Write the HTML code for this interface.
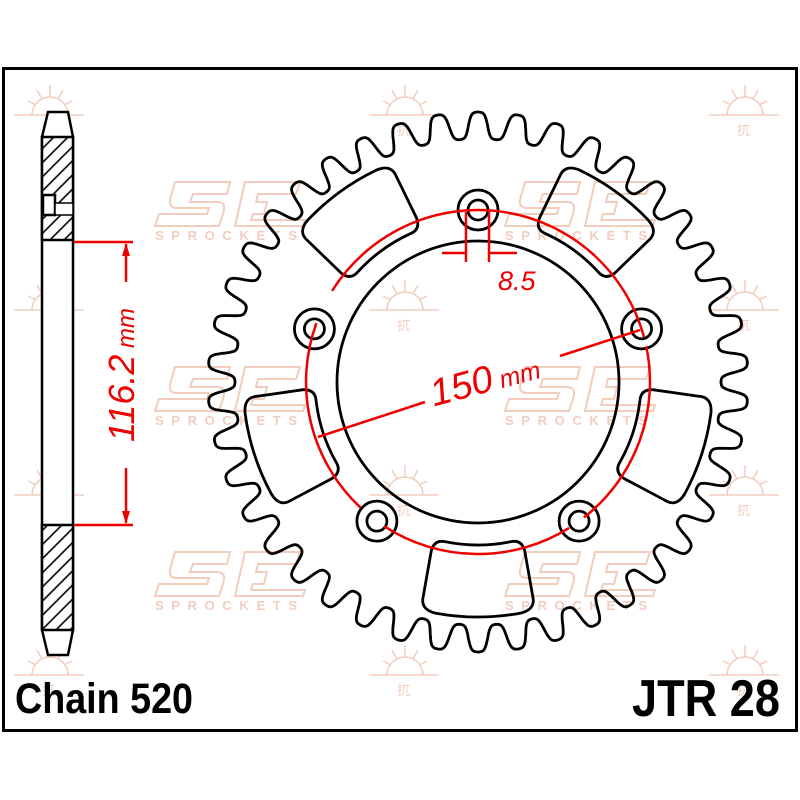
<!DOCTYPE html>
<html><head><meta charset="utf-8"><style>
html,body{margin:0;padding:0;background:#fff;}
svg{display:block}
</style></head><body>
<svg id="s" width="800" height="800" viewBox="0 0 800 800" xmlns="http://www.w3.org/2000/svg">
<defs>
<pattern id="h" patternUnits="userSpaceOnUse" width="10" height="10" patternTransform="rotate(-45)">
<rect width="10" height="10" fill="#fff"/><line x1="0" y1="5" x2="10" y2="5" stroke="#000" stroke-width="1.6"/>
</pattern>
<g id="logo" fill="none" stroke="#f2cdbd" stroke-width="2">
<path d="M20 2 H75 L72 14 H38 L35 22 H62 Q72 22 68 34 L64 46 H0 L4 34 H52 L54 28 H22 Q12 28 16 16 Z"/>
<path d="M80 46 L90 2 H145 L141 14 H103 L101 22 H112 L109 34 H98 L96 40 H150 L148 46 Z"/>
<text x="0" y="60" font-family="Liberation Sans,sans-serif" font-weight="bold" font-size="13" fill="#f2cdbd" stroke="none" textLength="145" letter-spacing="3">SPROCKETS</text>
</g>
<g id="sun" fill="none" stroke="#f2cdbd" stroke-width="1.5">
<path d="M-18 10 A18 18 0 0 1 18 10"/>
<line x1="-36" y1="10" x2="34" y2="10"/>
<line x1="0" y1="-20" x2="0" y2="-8"/><line x1="-22" y1="-4" x2="-14" y2="0"/><line x1="22" y1="-4" x2="14" y2="0"/>
<line x1="-13" y1="-15" x2="-8" y2="-6"/><line x1="13" y1="-15" x2="8" y2="-6"/>
<text x="-8" y="30" font-size="13" fill="#f2cdbd" stroke="none" font-family="Noto Sans CJK SC,sans-serif">扤</text>
</g>
</defs>
<g id="wm">
<use href="#logo" x="155" y="180"/><use href="#logo" x="505" y="180"/>
<use href="#logo" x="155" y="365"/><use href="#logo" x="505" y="365"/>
<use href="#logo" x="155" y="550"/><use href="#logo" x="505" y="550"/>
<use href="#sun" x="50" y="105"/><use href="#sun" x="405" y="105"/><use href="#sun" x="745" y="105"/>
<use href="#sun" x="50" y="300"/><use href="#sun" x="405" y="300"/><use href="#sun" x="745" y="300"/>
<use href="#sun" x="50" y="485"/><use href="#sun" x="405" y="485"/><use href="#sun" x="745" y="485"/>
<use href="#sun" x="50" y="665"/><use href="#sun" x="405" y="665"/><use href="#sun" x="745" y="665"/>
</g>
<rect x="3.5" y="68.5" width="793" height="662" fill="none" stroke="#000" stroke-width="3"/>
<g stroke="#000" stroke-width="2.5" fill="none">
<path d="M48 112 H68 L73 137 V630 L68 655 H48 L42 630 V137 Z" fill="#fff"/>
<rect x="42" y="137" width="31" height="103" fill="url(#h)"/>
<rect x="42" y="525" width="31" height="105" fill="url(#h)"/>
<rect x="43" y="195" width="12" height="20" fill="#fff"/>
<rect x="55" y="203" width="18" height="12" fill="#fff" stroke-width="1.5"/>
</g>
<g stroke="#e00" stroke-width="2.5" fill="#e00">
<line x1="74" y1="242" x2="133" y2="242"/><line x1="74" y1="525" x2="133" y2="525"/>
<line x1="126" y1="244" x2="126" y2="282"/><line x1="126" y1="468" x2="126" y2="523"/>
<path d="M126 243 L122 256 L130 256 Z" stroke="none"/>
<path d="M126 524 L122 511 L130 511 Z" stroke="none"/>
</g>
<text transform="translate(134,375) rotate(-90)" text-anchor="middle" font-family="Liberation Sans,sans-serif" font-style="italic" fill="#e00"><tspan font-size="36">116.2</tspan><tspan font-size="24"> mm</tspan></text>
<g id="spr" fill="none" stroke="#000" stroke-width="2.8"></g>
<g fill="none" stroke="#e00" stroke-width="2.5">
<path id="redc"/>
<line x1="318" y1="437" x2="425" y2="402"/>
<line x1="560" y1="356" x2="640" y2="330"/>
<line x1="466" y1="212" x2="466" y2="262"/><line x1="489" y1="212" x2="489" y2="262"/>
<line x1="442" y1="253" x2="466" y2="253"/><line x1="489" y1="253" x2="517" y2="253"/>
</g>
<text transform="translate(488,392) rotate(-15)" text-anchor="middle" font-family="Liberation Sans,sans-serif" font-style="italic" fill="#e00"><tspan font-size="38">150</tspan><tspan font-size="25"> mm</tspan></text>
<text x="498" y="290" font-family="Liberation Sans,sans-serif" font-style="italic" font-size="27" fill="#e00">8.5</text>
<text x="15" y="713" font-family="Liberation Sans,sans-serif" font-weight="bold" font-size="43" textLength="178" lengthAdjust="spacingAndGlyphs">Chain 520</text>
<text x="632" y="716" font-family="Liberation Sans,sans-serif" font-weight="bold" font-size="52" textLength="148" lengthAdjust="spacingAndGlyphs">JTR 28</text>
</svg>
<script>
(function(){
var cx=478,cy=382,N=42,Ro=270,Rr=243,d="";
var M=3000,k=1.8,tk=Math.tanh(k);
for(var i=0;i<=M;i++){
 var t=i/M*2*Math.PI;
 var ph=((t*N/(2*Math.PI))%1+1)%1;
 var u=Math.cos(ph*2*Math.PI);
 var f=Math.tanh(k*u)/tk;
 var r=(Ro+Rr)/2+(Ro-Rr)/2*f;
 var a=t-Math.PI/2;
 d+=(i?"L":"M")+(cx+r*Math.cos(a)).toFixed(1)+" "+(cy+r*Math.sin(a)).toFixed(1);
}
d+="Z";
var g=document.getElementById("spr"),ns="http://www.w3.org/2000/svg";
function P(dd){var p=document.createElementNS(ns,"path");p.setAttribute("d",dd);g.appendChild(p);return p;}
function C(x,y,r){var c=document.createElementNS(ns,"circle");c.setAttribute("cx",x);c.setAttribute("cy",y);c.setAttribute("r",r);g.appendChild(c);}
P(d);
C(cx,cy,141);
function pt(r,a){return (cx+r*Math.cos(a)).toFixed(1)+" "+(cy+r*Math.sin(a)).toFixed(1);}
for(var k2=0;k2<5;k2++){
 var a0=(-90+k2*72)*Math.PI/180, aw=(-54+k2*72)*Math.PI/180;
 C(cx+172*Math.cos(a0),cy+172*Math.sin(a0),20);
 C(cx+172*Math.cos(a0),cy+172*Math.sin(a0),10);
 var r1=163,r2=235,h1=0.27,h2=0.25,c=0.07;
 var w="M"+pt(r1+12,aw-h1)+" Q"+pt(r1,aw-h1)+" "+pt(r1,aw-h1+c)
 +" A"+r1+" "+r1+" 0 0 1 "+pt(r1,aw+h1-c)
 +" Q"+pt(r1,aw+h1)+" "+pt(r1+12,aw+h1)
 +" L"+pt(r2-14,aw+h2)+" Q"+pt(r2,aw+h2)+" "+pt(r2,aw+h2-c)
 +" A"+r2+" "+r2+" 0 0 0 "+pt(r2,aw-h2+c)
 +" Q"+pt(r2,aw-h2)+" "+pt(r2-14,aw-h2)+" Z";
 P(w);
}
var R=172,rd="";
function arc(s,e){rd+="M"+pt(R,s*Math.PI/180)+" A"+R+" "+R+" 0 0 1 "+pt(R,e*Math.PI/180);}
arc(-148,-15);arc(-12,52);arc(58,123);arc(133,200);
document.getElementById("redc").setAttribute("d",rd);
})();
</script>
</body></html>
